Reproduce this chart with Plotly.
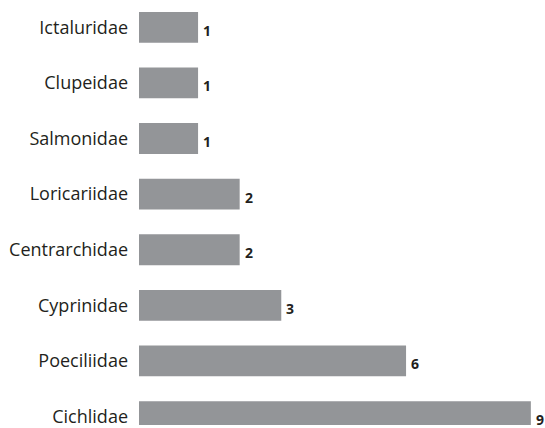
import plotly.graph_objects as go

families = ["Ictaluridae", "Clupeidae", "Salmonidae", "Loricariidae",
            "Centrarchidae", "Cyprinidae", "Poeciliidae", "Cichlidae"]
counts = [1, 1, 1, 2, 2, 3, 6, 9]

BASE = -0.42
bar_color = "#939598"
text_color = "#231f20"

fig = go.Figure()
fig.add_trace(go.Bar(
    y=families,
    x=[c - BASE for c in counts],
    base=BASE,
    orientation="h",
    marker=dict(color=bar_color, line=dict(width=0)),
    width=0.554,
    hoverinfo="skip",
))

for fam, c in zip(families, counts):
    fig.add_annotation(
        x=c, y=fam, text=f"<b>{c}</b>", showarrow=False,
        xanchor="left", yanchor="middle", xshift=4, yshift=-3,
        borderpad=0,
        font=dict(family="Open Sans", size=14, color=text_color),
    )

fig.update_layout(
    width=545, height=428,
    margin=dict(l=139, r=0, t=0, b=0),
    plot_bgcolor="white", paper_bgcolor="white",
    showlegend=False,
    xaxis=dict(range=[BASE, 9.34], visible=False, showgrid=False, zeroline=False),
    yaxis=dict(
        categoryorder="array", categoryarray=families,
        range=[7.152, -0.491],
        showgrid=False, zeroline=False, showline=False, ticks="",
        ticklabelstandoff=10,
        tickfont=dict(family="Open Sans", size=18, color=text_color),
    ),
)

fig.write_html("out.html", config={"displayModeBar": False},
               post_script="document.body.style.margin='0';document.body.style.overflow='hidden';")
